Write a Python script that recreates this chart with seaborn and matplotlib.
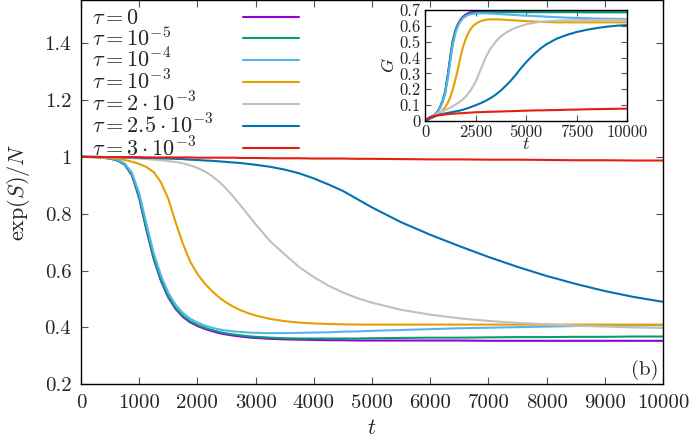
import numpy as np
import pandas as pd
import matplotlib
matplotlib.use("Agg")
import matplotlib.pyplot as plt
import seaborn as sns
from matplotlib.lines import Line2D

# ---------------- data ----------------
labels = [r'$\tau = 0$', r'$\tau = 10^{-5}$', r'$\tau = 10^{-4}$', r'$\tau = 10^{-3}$',
          r'$\tau = 2\cdot10^{-3}$', r'$\tau = 2.5\cdot10^{-3}$', r'$\tau = 3\cdot10^{-3}$']
colors = ['#9400D3', '#009E73', '#56B4E9', '#E69F00', '#C0C0C0', '#0072B2', '#E51E10']

t_main = [0, 250, 500, 625, 750, 875, 1000, 1125, 1250, 1375, 1500, 1625, 1750, 1875, 2000,
          2125, 2250, 2375, 2500, 2625, 2750, 2875, 3000, 3250, 3500, 3750, 4000, 4250, 4500,
          4750, 5000, 5500, 6000, 6500, 7000, 7500, 8000, 8500, 9000, 9500, 10000]

s_tau0 = [1.000, 0.999, 0.994, 0.987, 0.973, 0.935, 0.855, 0.742, 0.640, 0.563, 0.505, 0.465, 0.437,
          0.418, 0.405, 0.395, 0.387, 0.380, 0.375, 0.371, 0.368, 0.365, 0.363, 0.360, 0.358, 0.357,
          0.356, 0.355, 0.355, 0.354, 0.354, 0.354, 0.354, 0.354, 0.353, 0.353, 0.353, 0.353, 0.353,
          0.353, 0.353]
s_tau1 = [1.000, 0.999, 0.994, 0.987, 0.974, 0.937, 0.858, 0.746, 0.644, 0.567, 0.509, 0.469, 0.441,
          0.422, 0.409, 0.399, 0.391, 0.384, 0.379, 0.375, 0.372, 0.369, 0.367, 0.364, 0.362, 0.361,
          0.361, 0.361, 0.361, 0.361, 0.362, 0.363, 0.364, 0.364, 0.365, 0.366, 0.366, 0.367, 0.367,
          0.368, 0.368]
s_tau2 = [1.000, 0.999, 0.995, 0.989, 0.977, 0.944, 0.872, 0.764, 0.661, 0.582, 0.522, 0.480, 0.451,
          0.431, 0.417, 0.407, 0.399, 0.393, 0.389, 0.386, 0.384, 0.382, 0.381, 0.380, 0.380, 0.381,
          0.382, 0.383, 0.385, 0.386, 0.388, 0.391, 0.394, 0.397, 0.399, 0.401, 0.403, 0.405, 0.406,
          0.407, 0.408]
s_tau3 = [1.000, 0.999, 0.996, 0.993, 0.989, 0.983, 0.975, 0.964, 0.946, 0.910, 0.852, 0.770, 0.695,
          0.632, 0.588, 0.555, 0.528, 0.505, 0.487, 0.472, 0.460, 0.450, 0.442, 0.430, 0.422, 0.417,
          0.414, 0.412, 0.411, 0.410, 0.410, 0.410, 0.410, 0.410, 0.410, 0.410, 0.410, 0.410, 0.410,
          0.410, 0.410]
s_tau4 = [1.000, 0.999, 0.998, 0.997, 0.996, 0.995, 0.994, 0.992, 0.990, 0.988, 0.985, 0.982, 0.977,
          0.970, 0.961, 0.949, 0.933, 0.912, 0.887, 0.858, 0.827, 0.795, 0.763, 0.703, 0.657, 0.612,
          0.577, 0.547, 0.523, 0.503, 0.487, 0.462, 0.445, 0.432, 0.423, 0.416, 0.411, 0.406, 0.403,
          0.400, 0.398]
s_tau5 = [1.000, 1.000, 0.999, 0.999, 0.998, 0.998, 0.997, 0.996, 0.996, 0.995, 0.994, 0.993, 0.992,
          0.990, 0.989, 0.987, 0.986, 0.984, 0.982, 0.980, 0.978, 0.975, 0.972, 0.965, 0.955, 0.942,
          0.924, 0.903, 0.880, 0.851, 0.822, 0.770, 0.726, 0.686, 0.648, 0.613, 0.581, 0.553, 0.528,
          0.507, 0.490]
s_tau6 = [1.000, 1.000, 0.999, 0.999, 0.999, 0.999, 0.999, 0.998, 0.998, 0.998, 0.998, 0.998, 0.998,
          0.998, 0.997, 0.997, 0.997, 0.997, 0.997, 0.997, 0.996, 0.996, 0.996, 0.995, 0.995, 0.995,
          0.994, 0.994, 0.994, 0.993, 0.993, 0.992, 0.991, 0.991, 0.990, 0.990, 0.989, 0.988, 0.988,
          0.987, 0.987]

t_in = [0, 250, 500, 625, 750, 875, 1000, 1125, 1250, 1375, 1500, 1625, 1750, 1875, 2000, 2125,
        2250, 2375, 2500, 2750, 3000, 3250, 3500, 3750, 4000, 4250, 4500, 4750, 5000, 5250, 5500,
        5750, 6000, 6500, 7000, 7500, 8000, 8500, 9000, 9500, 10000]
g_tau0 = [0.000, 0.020, 0.042, 0.060, 0.088, 0.128, 0.185, 0.285, 0.400, 0.505, 0.570, 0.610, 0.638,
          0.657, 0.670, 0.679, 0.685, 0.688, 0.690, 0.692, 0.693, 0.694, 0.694, 0.695, 0.695, 0.695,
          0.695, 0.695, 0.695, 0.695, 0.696, 0.696, 0.696, 0.696, 0.696, 0.696, 0.696, 0.696, 0.696,
          0.696, 0.696]
g_tau1 = [0.000, 0.020, 0.042, 0.060, 0.088, 0.128, 0.185, 0.285, 0.400, 0.505, 0.568, 0.606, 0.632,
          0.650, 0.663, 0.672, 0.677, 0.680, 0.682, 0.684, 0.685, 0.685, 0.686, 0.686, 0.686, 0.686,
          0.686, 0.686, 0.686, 0.686, 0.686, 0.686, 0.686, 0.686, 0.686, 0.686, 0.685, 0.685, 0.685,
          0.685, 0.685]
g_tau2 = [0.000, 0.020, 0.041, 0.057, 0.083, 0.120, 0.172, 0.262, 0.372, 0.478, 0.550, 0.596, 0.627,
          0.647, 0.660, 0.668, 0.673, 0.676, 0.678, 0.679, 0.679, 0.678, 0.676, 0.674, 0.672, 0.670,
          0.668, 0.666, 0.664, 0.663, 0.661, 0.660, 0.658, 0.655, 0.652, 0.650, 0.648, 0.646, 0.645,
          0.644, 0.643]
g_tau3 = [0.000, 0.015, 0.030, 0.040, 0.052, 0.068, 0.088, 0.113, 0.150, 0.200, 0.258, 0.325, 0.400,
          0.463, 0.512, 0.550, 0.578, 0.598, 0.612, 0.630, 0.638, 0.641, 0.641, 0.640, 0.638, 0.636,
          0.634, 0.632, 0.630, 0.628, 0.627, 0.625, 0.624, 0.622, 0.622, 0.622, 0.622, 0.622, 0.622,
          0.622, 0.622]
g_tau4 = [0.000, 0.018, 0.038, 0.047, 0.055, 0.062, 0.069, 0.076, 0.084, 0.093, 0.103, 0.113, 0.124,
          0.137, 0.152, 0.170, 0.192, 0.218, 0.246, 0.322, 0.400, 0.458, 0.500, 0.533, 0.556, 0.574,
          0.589, 0.600, 0.609, 0.616, 0.621, 0.626, 0.629, 0.633, 0.635, 0.636, 0.637, 0.637, 0.637,
          0.637, 0.637]
g_tau5 = [0.000, 0.016, 0.030, 0.036, 0.041, 0.045, 0.048, 0.051, 0.054, 0.057, 0.060, 0.063, 0.067,
          0.071, 0.076, 0.081, 0.087, 0.093, 0.099, 0.112, 0.127, 0.145, 0.166, 0.192, 0.222, 0.255,
          0.292, 0.333, 0.370, 0.403, 0.433, 0.460, 0.483, 0.518, 0.542, 0.561, 0.575, 0.586, 0.595,
          0.601, 0.605]
g_tau6 = [0.005, 0.025, 0.033, 0.035, 0.037, 0.039, 0.041, 0.043, 0.044, 0.046, 0.047, 0.048, 0.049,
          0.050, 0.051, 0.052, 0.053, 0.054, 0.055, 0.056, 0.057, 0.058, 0.059, 0.060, 0.061, 0.062,
          0.063, 0.064, 0.065, 0.066, 0.067, 0.067, 0.068, 0.069, 0.071, 0.072, 0.074, 0.075, 0.076,
          0.077, 0.078]

main_series = [s_tau0, s_tau1, s_tau2, s_tau3, s_tau4, s_tau5, s_tau6]
inset_series = [g_tau0, g_tau1, g_tau2, g_tau3, g_tau4, g_tau5, g_tau6]

x_ticks = [0, 1000, 2000, 3000, 4000, 5000, 6000, 7000, 8000, 9000, 10000]
x_ticklabels = ['0', '1000', '2000', '3000', '4000', '5000', '6000', '7000', '8000', '9000', '10000']
y_ticks = [0.2, 0.4, 0.6, 0.8, 1.0, 1.2, 1.4]
y_ticklabels = ['0.2', '0.4', '0.6', '0.8', '1', '1.2', '1.4']
xin_ticks = [0, 2500, 5000, 7500, 10000]
xin_ticklabels = ['0', '2500', '5000', '7500', '10000']
yin_ticks = [0, 0.1, 0.2, 0.3, 0.4, 0.5, 0.6, 0.7]
yin_ticklabels = ['0', '0.1', '0.2', '0.3', '0.4', '0.5', '0.6', '0.7']

df_main = pd.DataFrame({
    't': np.tile(t_main, len(labels)),
    'v': np.concatenate(main_series),
    'tau': np.repeat(labels, len(t_main)),
})
df_in = pd.DataFrame({
    't': np.tile(t_in, len(labels)),
    'v': np.concatenate(inset_series),
    'tau': np.repeat(labels, len(t_in)),
})

# ---------------- style ----------------
sns.set_theme(style='ticks')
plt.rcParams['font.family'] = ['cmr10', 'DejaVu Serif']
plt.rcParams['mathtext.fontset'] = 'cm'
plt.rcParams['axes.unicode_minus'] = False
plt.rcParams['axes.formatter.use_mathtext'] = True

palette = dict(zip(labels, colors))

fig = plt.figure(figsize=(6.89, 4.43), dpi=100)
ax = fig.add_axes([81/689, 1 - 384.3/443, (663-81)/689, 384.3/443 - 0.001])

sns.lineplot(data=df_main, x='t', y='v', hue='tau', hue_order=labels, palette=palette,
             estimator=None, sort=False, linewidth=1.5, legend=False, ax=ax)

ax.set_xlim(0, 10000)
ax.set_ylim(0.2, 1.55)
ax.set_xticks(x_ticks)
ax.set_xticklabels(x_ticklabels, fontsize=15)
ax.set_yticks(y_ticks)
ax.set_yticklabels(y_ticklabels, fontsize=15)
ax.tick_params(direction='in', top=True, right=True, length=5, width=0.8, color='#555555', pad=7)
for sp in ax.spines.values():
    sp.set_linewidth(1.0)
    sp.set_color('black')
ax.set_xlabel(r'$t$', fontsize=16, labelpad=5)
ax.set_ylabel(r'$\exp(S)/N$', fontsize=16, labelpad=9)
ax.text(0.992, 0.012, '(b)', transform=ax.transAxes, ha='right', va='bottom', fontsize=15)

handles = [Line2D([], [], color=c, lw=1.5) for c in colors]
leg = ax.legend(handles, labels, loc='upper left', bbox_to_anchor=(0.011, 0.99), frameon=False,
                markerfirst=False, fontsize=16, handlelength=2.5, labelspacing=-0.09,
                borderpad=0.2, borderaxespad=0.0)
for col in leg._legend_handle_box.get_children():
    for row in col.get_children():
        row.mode = 'expand'
        row.width = 207

# ---------------- inset ----------------
axin = fig.add_axes([425/689, 1 - 121/443, (627-425)/689, (121-10)/443])
sns.lineplot(data=df_in, x='t', y='v', hue='tau', hue_order=labels, palette=palette,
             estimator=None, sort=False, linewidth=1.5, legend=False, ax=axin)
axin.set_xlim(0, 10000)
axin.set_ylim(0, 0.7)
axin.set_xticks(xin_ticks)
axin.set_xticklabels(xin_ticklabels, fontsize=12)
axin.set_yticks(yin_ticks)
axin.set_yticklabels(yin_ticklabels, fontsize=12)
axin.tick_params(direction='in', top=True, right=True, length=4, width=0.8, color='#555555', pad=3)
for sp in axin.spines.values():
    sp.set_linewidth(1.0)
    sp.set_color('black')
axin.set_xlabel(r'$t$', fontsize=13, labelpad=-3)
axin.set_ylabel(r'$G$', fontsize=13, labelpad=2)

fig.savefig('out.png', dpi=100)
